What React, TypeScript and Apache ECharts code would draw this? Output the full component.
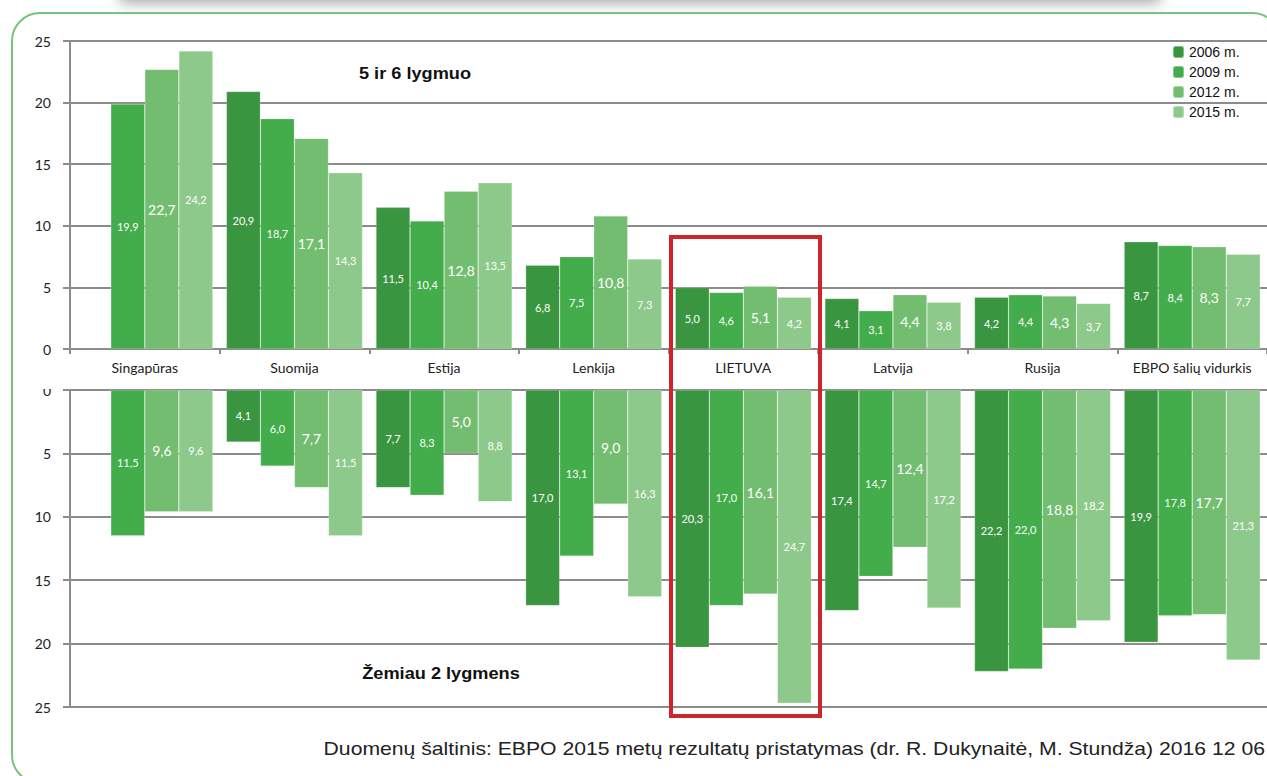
import React, { useEffect, useRef } from "react";
import * as echarts from "echarts";

const categories = ["Singapūras", "Suomija", "Estija", "Lenkija", "LIETUVA", "Latvija", "Rusija", "EBPO šalių vidurkis"];
const seriesNames = ["2006 m.", "2009 m.", "2012 m.", "2015 m."];
const colors = ["#3a9540", "#42ad4a", "#72bd6f", "#8dc98a"];

// Upper panel: 5 ir 6 lygmuo
const top2006 = [null, 20.9, 11.5, 6.8, 5.0, 4.1, 4.2, 8.7];
const top2009 = [19.9, 18.7, 10.4, 7.5, 4.6, 3.1, 4.4, 8.4];
const top2012 = [22.7, 17.1, 12.8, 10.8, 5.1, 4.4, 4.3, 8.3];
const top2015 = [24.2, 14.3, 13.5, 7.3, 4.2, 3.8, 3.7, 7.7];

// Lower panel: Žemiau 2 lygmens
const low2006 = [null, 4.1, 7.7, 17.0, 20.3, 17.4, 22.2, 19.9];
const low2009 = [11.5, 6.0, 8.3, 13.1, 17.0, 14.7, 22.0, 17.8];
const low2012 = [9.6, 7.7, 5.0, 9.0, 16.1, 12.4, 18.8, 17.7];
const low2015 = [9.6, 11.5, 8.8, 16.3, 24.7, 17.2, 18.2, 21.3];

const upperTitle = "5 ir 6 lygmuo";
const lowerTitle = "Žemiau 2 lygmens";
const sourceText = "Duomenų šaltinis: EBPO 2015 metų rezultatų pristatymas (dr. R. Dukynaitė, M. Stundža) 2016 12 06";

const FONT = "Lato, 'Open Sans', sans-serif";
const ARIAL = "'Liberation Sans', Arial, sans-serif";
const GRID = "#8c8c8c";

export default function App() {
  const ref = useRef<HTMLDivElement>(null);

  useEffect(() => {
    if (!ref.current) return;
    const chart = echarts.init(ref.current, undefined, { renderer: "svg" });

    const fmt = (p: any) => (p.value == null ? "" : Number(p.value).toFixed(1).replace(".", ","));

    const mkSeries = (data: (number | null)[], i: number, panel: number) => ({
      type: "bar",
      name: seriesNames[i],
      xAxisIndex: panel,
      yAxisIndex: panel,
      data,
      barGap: "0%",
      barCategoryGap: "9%",
      itemStyle: { color: colors[i], borderColor: "rgba(255,255,255,0.35)", borderWidth: 0.6 },
      label: {
        show: true,
        position: "inside",
        color: "#fff",
        fontFamily: FONT,
        fontSize: i === 2 ? 14 : 11,
        formatter: fmt,
      },
      emphasis: { disabled: true },
    });

    const yAxisBase = {
      type: "value",
      min: 0,
      max: 25,
      interval: 5,
      axisLine: { show: true, lineStyle: { color: GRID, width: 2 } },
      axisTick: { show: true, length: 7, lineStyle: { color: GRID, width: 2 } },
      splitLine: { show: true, lineStyle: { color: GRID, width: 2 } },
      axisLabel: { color: "#222", fontFamily: FONT, fontSize: 14, margin: 19 },
    };

    chart.setOption({
      animation: false,
      backgroundColor: "#fff",
      legend: {
        orient: "vertical",
        left: 1172,
        top: 45,
        padding: 0,
        itemWidth: 11,
        itemHeight: 12,
        itemGap: 6,
        data: seriesNames,
        textStyle: { fontFamily: ARIAL, fontSize: 14, color: "#111", lineHeight: 12 },
        selectedMode: false,
      },
      grid: [
        { left: 70, top: 41, width: 1200, height: 308 },
        { left: 70, top: 390, width: 1200, height: 317 },
      ],
      xAxis: [
        {
          type: "category",
          gridIndex: 0,
          data: categories,
          position: "bottom",
          axisLine: { show: true, lineStyle: { color: GRID, width: 2 } },
          axisTick: { show: true, length: 5, lineStyle: { color: GRID, width: 2 } },
          axisLabel: { color: "#222", fontFamily: FONT, fontSize: 14, margin: 11, interval: 0 },
        },
        {
          type: "category",
          gridIndex: 1,
          data: categories,
          position: "top",
          axisLine: { show: true, lineStyle: { color: GRID, width: 2 } },
          axisTick: { show: false },
          axisLabel: { show: false },
        },
      ],
      yAxis: [
        { ...yAxisBase, gridIndex: 0 },
        { ...yAxisBase, gridIndex: 1, inverse: true },
      ],
      series: [
        mkSeries(top2006, 0, 0),
        mkSeries(top2009, 1, 0),
        mkSeries(top2012, 2, 0),
        mkSeries(top2015, 3, 0),
        mkSeries(low2006, 0, 1),
        mkSeries(low2009, 1, 1),
        mkSeries(low2012, 2, 1),
        mkSeries(low2015, 3, 1),
      ],
      graphic: [
        {
          type: "rect",
          z: 0,
          shape: { x: 120, y: -30, width: 1040, height: 30 },
          style: { fill: "#fff", shadowBlur: 14, shadowOffsetY: 3, shadowColor: "rgba(0,0,0,0.35)" },
          silent: true,
        },
        {
          type: "rect",
          z: 0,
          shape: { x: 12, y: 13, width: 1268, height: 770, r: 28 },
          style: { fill: "none", stroke: "#78c47a", lineWidth: 2 },
          silent: true,
        },
        {
          type: "rect",
          z: 100,
          shape: { x: 26, y: 358, width: 36, height: 31 },
          style: { fill: "#fff" },
          silent: true,
        },
        {
          type: "text",
          z: 100,
          x: 415,
          y: 73,
          scaleX: 1.07,
          style: { text: upperTitle, font: `bold 17px ${ARIAL}`, fill: "#111", textAlign: "center", textVerticalAlign: "middle" },
        },
        {
          type: "text",
          z: 100,
          x: 441,
          y: 673,
          scaleX: 1.07,
          style: { text: lowerTitle, font: `bold 17px ${ARIAL}`, fill: "#111", textAlign: "center", textVerticalAlign: "middle" },
        },
        {
          type: "text",
          z: 100,
          x: 1265,
          y: 748,
          scaleX: 1.115,
          style: { text: sourceText, font: `19px ${ARIAL}`, fill: "#222", textAlign: "right", textVerticalAlign: "middle" },
        },
        {
          type: "rect",
          z: 100,
          shape: { x: 671, y: 237, width: 149, height: 479 },
          style: { fill: "none", stroke: "#d0242b", lineWidth: 4 },
          silent: true,
        },
      ],
    });

    return () => chart.dispose();
  }, []);

  return (
    <div
      ref={ref}
      style={{ position: "fixed", left: 0, top: 0, width: 1267, height: 776, background: "#fff" }}
    />
  );
}
